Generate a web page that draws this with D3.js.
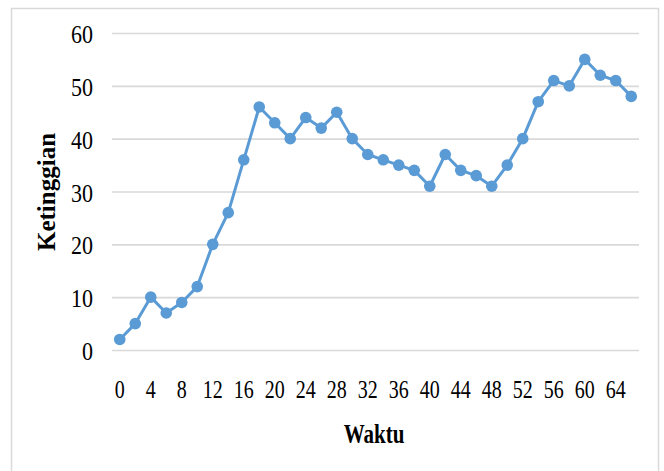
<!DOCTYPE html>
<html>
<head>
<meta charset="utf-8">
<script src="https://cdn.jsdelivr.net/npm/d3@7"></script>
<style>
  body { margin: 0; background: #fff; }
  svg { display: block; }
</style>
</head>
<body>
<div id="chart"></div>
<script>
// DATA
var waktu = [0, 2, 4, 6, 8, 10, 12, 14, 16, 18, 20, 22, 24, 26, 28, 30, 32,
             34, 36, 38, 40, 42, 44, 46, 48, 50, 52, 54, 56, 58, 60, 62, 64, 66];
var ketinggian = [2, 5, 10, 7, 9, 12, 20, 26, 36, 46, 43, 40, 44, 42, 45, 40, 37,
                  36, 35, 34, 31, 37, 34, 33, 31, 35, 40, 47, 51, 50, 55, 52, 51, 48];
var yTicks = [0, 10, 20, 30, 40, 50, 60];

var w = 664;
var h = 471;
var plotLeft = 112, plotRight = 639, plotTop = 33, plotBottom = 350;
var blue = "#5b9bd5";
var grid = "#d9d9d9";
var serif = "'Liberation Serif', 'Times New Roman', serif";

var data = waktu.map(function (d, i) { return { t: d, v: ketinggian[i] }; });

var svg = d3.select("#chart").append("svg").attr("width", w).attr("height", h);

// frame
svg.append("rect")
  .attr("x", 11.5).attr("y", 8.5)
  .attr("width", 647).attr("height", 480)
  .attr("fill", "none")
  .attr("stroke", grid)
  .attr("stroke-width", 1.5);

// SCALES
var xScale = d3.scaleBand()
  .domain(waktu)
  .range([plotLeft, plotRight]);

var yScale = d3.scaleLinear()
  .domain([0, 60])
  .range([plotBottom, plotTop]);

// y axis + gridlines
var yAxis = d3.axisLeft(yScale)
  .tickValues(yTicks)
  .tickSize(-(plotRight - plotLeft));

svg.append("g")
  .attr("class", "axis y")
  .attr("transform", "translate(" + plotLeft + ",0)")
  .call(yAxis)
  .call(function (g) {
    g.select(".domain").remove();
    g.selectAll("line").attr("stroke", grid).attr("stroke-width", 1.6);
    // labels are a bit taller than plain Times in the picture
    g.selectAll("text")
      .attr("x", 0).attr("dy", null)
      .attr("transform", "translate(-19,9.5) scale(1,1.1)")
      .attr("font-family", serif)
      .attr("font-size", "22px")
      .attr("fill", "#000");
  });

// x axis (labels every other category)
var xAxis = d3.axisBottom(xScale)
  .tickValues(waktu.filter(function (d) { return d % 4 === 0; }))
  .tickSize(0);

svg.append("g")
  .attr("class", "axis x")
  .attr("transform", "translate(0," + plotBottom + ")")
  .call(xAxis)
  .call(function (g) {
    g.select(".domain").remove();
    g.selectAll("text")
      .attr("y", 0).attr("dy", null)
      .attr("transform", "translate(0,48) scale(1,1.3)")
      .attr("font-family", serif)
      .attr("font-size", "20px")
      .attr("fill", "#000");
  });

// LINE
var line = d3.line()
  .x(function (d) { return xScale(d.t) + xScale.bandwidth() / 2; })
  .y(function (d) { return yScale(d.v); });

svg.append("path")
  .datum(data)
  .attr("d", line)
  .attr("fill", "none")
  .attr("stroke", blue)
  .attr("stroke-width", 3)
  .attr("stroke-linejoin", "round");

svg.selectAll(".dot")
  .data(data)
  .enter()
  .append("circle")
  .attr("class", "dot")
  .attr("cx", function (d) { return xScale(d.t) + xScale.bandwidth() / 2; })
  .attr("cy", function (d) { return yScale(d.v); })
  .attr("r", 5.8)
  .attr("fill", blue);

// axis titles
svg.append("text")
  .attr("transform", "translate(374,443) scale(1,1.3)")
  .attr("text-anchor", "middle")
  .attr("font-family", serif)
  .attr("font-weight", "bold")
  .attr("font-size", "21px")
  .text("Waktu");

svg.append("text")
  .attr("transform", "translate(55,192) rotate(-90)")
  .attr("text-anchor", "middle")
  .attr("font-family", serif)
  .attr("font-weight", "bold")
  .attr("font-size", "25px")
  .text("Ketinggian");
</script>
</body>
</html>
